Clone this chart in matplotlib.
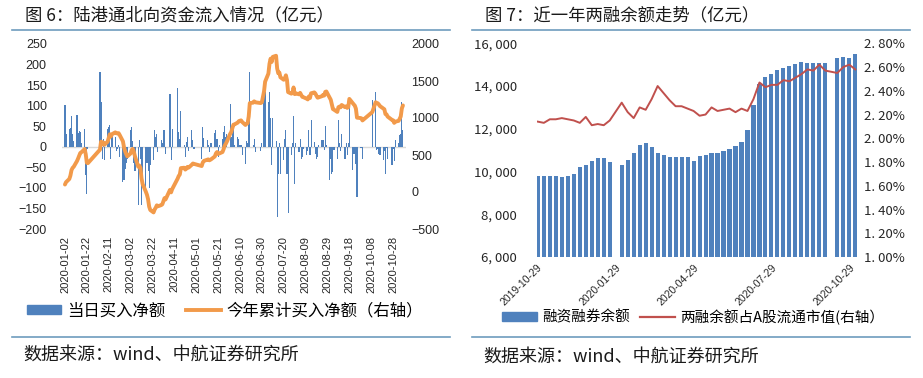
import pandas as pd
import matplotlib
matplotlib.use('Agg')
import matplotlib.pyplot as plt
import matplotlib.dates as mdates
from matplotlib.patches import Patch
from matplotlib.lines import Line2D

CJK = ['Noto Sans CJK SC', 'DejaVu Sans']
NUM = ['Liberation Sans', 'DejaVu Sans']
BLUE = '#4F81BD'
ORANGE = '#F29A4A'
RED = '#C0504D'
RULE = '#6E9CBD'

# ---- 图6: 北向资金 daily net buy (亿元), one list per month of trading days
closed_days = ['2020-01-24', '2020-01-27', '2020-01-28', '2020-01-29', '2020-01-30',
               '2020-01-31', '2020-04-06', '2020-04-10', '2020-04-13', '2020-04-30',
               '2020-05-01', '2020-05-04', '2020-05-05', '2020-06-25', '2020-06-26',
               '2020-07-01', '2020-10-01', '2020-10-02', '2020-10-05', '2020-10-06',
               '2020-10-07', '2020-10-08', '2020-10-26']
net_jan = [101, 32, 43, 46, 74, 30, 15, 77, 34, 39, 36, 10, 43, -69, -116, -5]
net_feb = [182, 109, -29, 18, -33, 43, 48, 52, -29, 30, 25, -10, -5, 5, -25,
           -86, -81, -53, -40, -30]
net_mar = [40, 47, 15, -40, -60, -142, 16, -30, -142, -77, -106, -40, -60, -100,
           -45, -33, 40, 24, 32, -13, 16, 10]
net_apr = [42, 42, -17, 128, -33, 43, 142, 36, 20, 87, 5, -25, 12, 24, -10, 40, 16, -5]
net_may = [-29, 47, 22, 16, 5, -13, 8, 10, 34, 40, 20, -25, 5, 20, 36, 50, 24, 30]
net_jun = [105, 24, 52, 48, 5, 24, 20, 5, 5, -21, -41, 15, 10, 89, 182, 5, 18, -13,
           -10, 10]
net_jul = [146, 133, 109, 133, 69, -45, 69, 15, -171, -65, 10, -65, -33, 20, 40, -65,
           -162, -21, 10, 74, -90, 10]
net_aug = [-13, 20, -29, -25, -5, -20, -10, 40, -21, 64, 12, -17, -30, -25, 5, 16, 17,
           -9, 50, 5, -81]
net_sep = [-30, -65, -61, -9, -30, 64, 8, -10, 32, -29, 10, -20, 8, 113, -57, -17, -17,
           -41, -122, -4, -4, -29]
net_oct = [113, 133, -9, -5, -17, -21, -33, -10, -65, -4, -30, -45, -5, -35, 17]
net_nov = [10, 28, 32, 109, 40]
left_ticks = pd.date_range('2020-01-02', '2020-10-28', freq='20D')

# ---- 图7: 两融余额 (亿元) and share of A-share float cap (%), weekly
weeks = pd.date_range('2019-10-28', '2020-11-02', freq='W-MON').drop(
    pd.to_datetime(['2020-01-27', '2020-10-05']))
margin = [9770, 9780, 9780, 9770, 9740, 9780, 9890, 10200, 10310, 10470, 10620, 10630,
          10430, 10310, 10550, 10860, 11250, 11340, 11140, 10890, 10780, 10670, 10660,
          10660, 10690, 10500, 10730, 10780, 10850, 10880, 10950, 11050, 11200, 11400,
          11950, 13100, 14100, 14400, 14550, 14750, 14850, 14950, 15050, 15130, 15100,
          15080, 15060, 15060, 15300, 15340, 15300, 15480]
ratio = [2.14, 2.13, 2.16, 2.16, 2.17, 2.16, 2.15, 2.13, 2.18, 2.11, 2.12, 2.11, 2.15,
         2.30, 2.22, 2.17, 2.26, 2.24, 2.33, 2.44, 2.38, 2.32, 2.27, 2.27, 2.25, 2.23,
         2.19, 2.20, 2.26, 2.23, 2.24, 2.25, 2.22, 2.25, 2.23, 2.33, 2.47, 2.43, 2.45,
         2.45, 2.49, 2.48, 2.51, 2.54, 2.58, 2.57, 2.62, 2.57, 2.55, 2.60, 2.62, 2.58]
right_ticks = ['2019-10-29', '2020-01-29', '2020-04-29', '2020-07-29', '2020-10-29']

trade_days = pd.bdate_range('2020-01-02', '2020-11-06').drop(pd.to_datetime(closed_days))
daily_net = pd.Series(net_jan + net_feb + net_mar + net_apr + net_may + net_jun + net_jul
                      + net_aug + net_sep + net_oct + net_nov, index=trade_days)
cum_net = daily_net.cumsum()

fig = plt.figure(figsize=(9.23, 3.78), dpi=100)
W, H = 923, 378


def frac(x0, y0, x1, y1):
    return [x0 / W, 1 - y1 / H, (x1 - x0) / W, (y1 - y0) / H]


def clean(ax):
    for s in ax.spines.values():
        s.set_visible(False)
    ax.tick_params(length=0)


# ---------------- left panel
ax1 = fig.add_axes(frac(62, 44, 406, 229))
ax1.axhline(0, color='#D9D9D9', lw=1, zorder=1)
ax1.bar(daily_net.index, daily_net.values, width=1.0, color=BLUE, zorder=2)
ax1.set_ylim(-200, 250)
ax1.set_yticks(range(-200, 251, 50))
start = mdates.date2num(pd.Timestamp('2020-01-02'))
ax1.set_xlim(start - 2.7, start + 311.8)
ax1.set_xticks(left_ticks)
ax1.xaxis.set_major_formatter(mdates.DateFormatter('%Y-%m-%d'))
ax1r = ax1.twinx()
ax1r.plot(cum_net.index, cum_net.values, color=ORANGE, lw=2.8, solid_capstyle='round')
ax1r.set_ylim(-500, 2000)
ax1r.set_yticks(range(-500, 2001, 500))
for a in (ax1, ax1r):
    clean(a)
ax1.tick_params(axis='y', pad=11, labelsize=9)
ax1.tick_params(axis='x', pad=5, labelsize=8, rotation=90)
ax1r.tick_params(axis='y', pad=4, labelsize=9)
for lab in ax1.get_xticklabels() + ax1.get_yticklabels() + ax1r.get_yticklabels():
    lab.set_family(NUM)
    lab.set_color('#262626')

fig.legend([Patch(color=BLUE), Line2D([], [], color=ORANGE, lw=2.8)],
           ['当日买入净额', '今年累计买入净额（右轴）'],
           loc='center left', bbox_to_anchor=(27 / W, 1 - 311 / H), ncol=2,
           frameon=False, prop={'family': CJK, 'size': 11.8}, handlelength=2.1,
           handleheight=0.45, handletextpad=0.37, columnspacing=1.25,
           borderpad=0, borderaxespad=0)

# ---------------- right panel
ax2 = fig.add_axes(frac(536.5, 43.3, 857.5, 257))
ax2.bar(mdates.date2num(weeks) - 0.4, margin, width=4.8, align='edge', color=BLUE)
ax2.set_ylim(6000, 16000)
ax2.set_yticks(range(6000, 16001, 2000))
ax2.set_yticklabels([f'{v:,}'.replace(',', ', ') for v in range(6000, 16001, 2000)])
ax2.set_xlim(mdates.date2num(pd.Timestamp('2019-10-29')) - 0.6,
             mdates.date2num(pd.Timestamp('2020-11-06')) + 0.6)
ax2.set_xticks(pd.to_datetime(right_ticks))
ax2.set_xticklabels(right_ticks, rotation=45, ha='right', rotation_mode='anchor')
ax2r = ax2.twinx()
ax2r.plot(mdates.date2num(weeks) + 2, ratio, color=RED, lw=1.4)
ax2r.set_ylim(1.0, 2.8)
pct = [1.0 + 0.2 * i for i in range(10)]
ax2r.set_yticks(pct)
ax2r.set_yticklabels([f'{p:.2f}'.replace('.', '. ') + '%' for p in pct])
for a in (ax2, ax2r):
    clean(a)
ax2.tick_params(axis='y', pad=14, labelsize=9.5)
ax2.tick_params(axis='x', pad=4, labelsize=7.5)
ax2r.tick_params(axis='y', pad=5, labelsize=9.5)
for lab in ax2.get_yticklabels() + ax2r.get_yticklabels():
    lab.set_family(CJK)
    lab.set_color('#262626')
for lab in ax2.get_xticklabels():
    lab.set_family(NUM)
    lab.set_color('#262626')

fig.legend([Patch(color=BLUE), Line2D([], [], color=RED, lw=1.6)],
           ['融资融券余额', '两融余额占A股流通市值(右轴）'],
           loc='center left', bbox_to_anchor=(502 / W, 1 - 317 / H), ncol=2,
           frameon=False, prop={'family': CJK, 'size': 10.5}, handlelength=2.4,
           handleheight=0.5, handletextpad=0.36, columnspacing=0.7,
           borderpad=0, borderaxespad=0)

# ---------------- titles, rules, sources
for x0, x1 in [(12, 450), (472, 910)]:
    for y in (30, 337):
        fig.add_artist(Line2D([x0 / W, x1 / W], [1 - y / H] * 2, color=RULE, lw=1.2))
fig.text(25 / W, 1 - 15 / H, '图 6：陆港通北向资金流入情况（亿元）', family=CJK,
         fontsize=12.5, va='center', color='#1a1a1a')
fig.text(485 / W, 1 - 15 / H, '图 7：近一年两融余额走势（亿元）', family=CJK,
         fontsize=12.5, va='center', color='#1a1a1a')
fig.text(23 / W, 1 - 355 / H, '数据来源：wind、中航证券研究所', family=CJK,
         fontsize=13, va='center', color='#1a1a1a')
fig.text(483 / W, 1 - 357 / H, '数据来源：wind、中航证券研究所', family=CJK,
         fontsize=13, va='center', color='#1a1a1a')

fig.savefig('out.png', dpi=100)
